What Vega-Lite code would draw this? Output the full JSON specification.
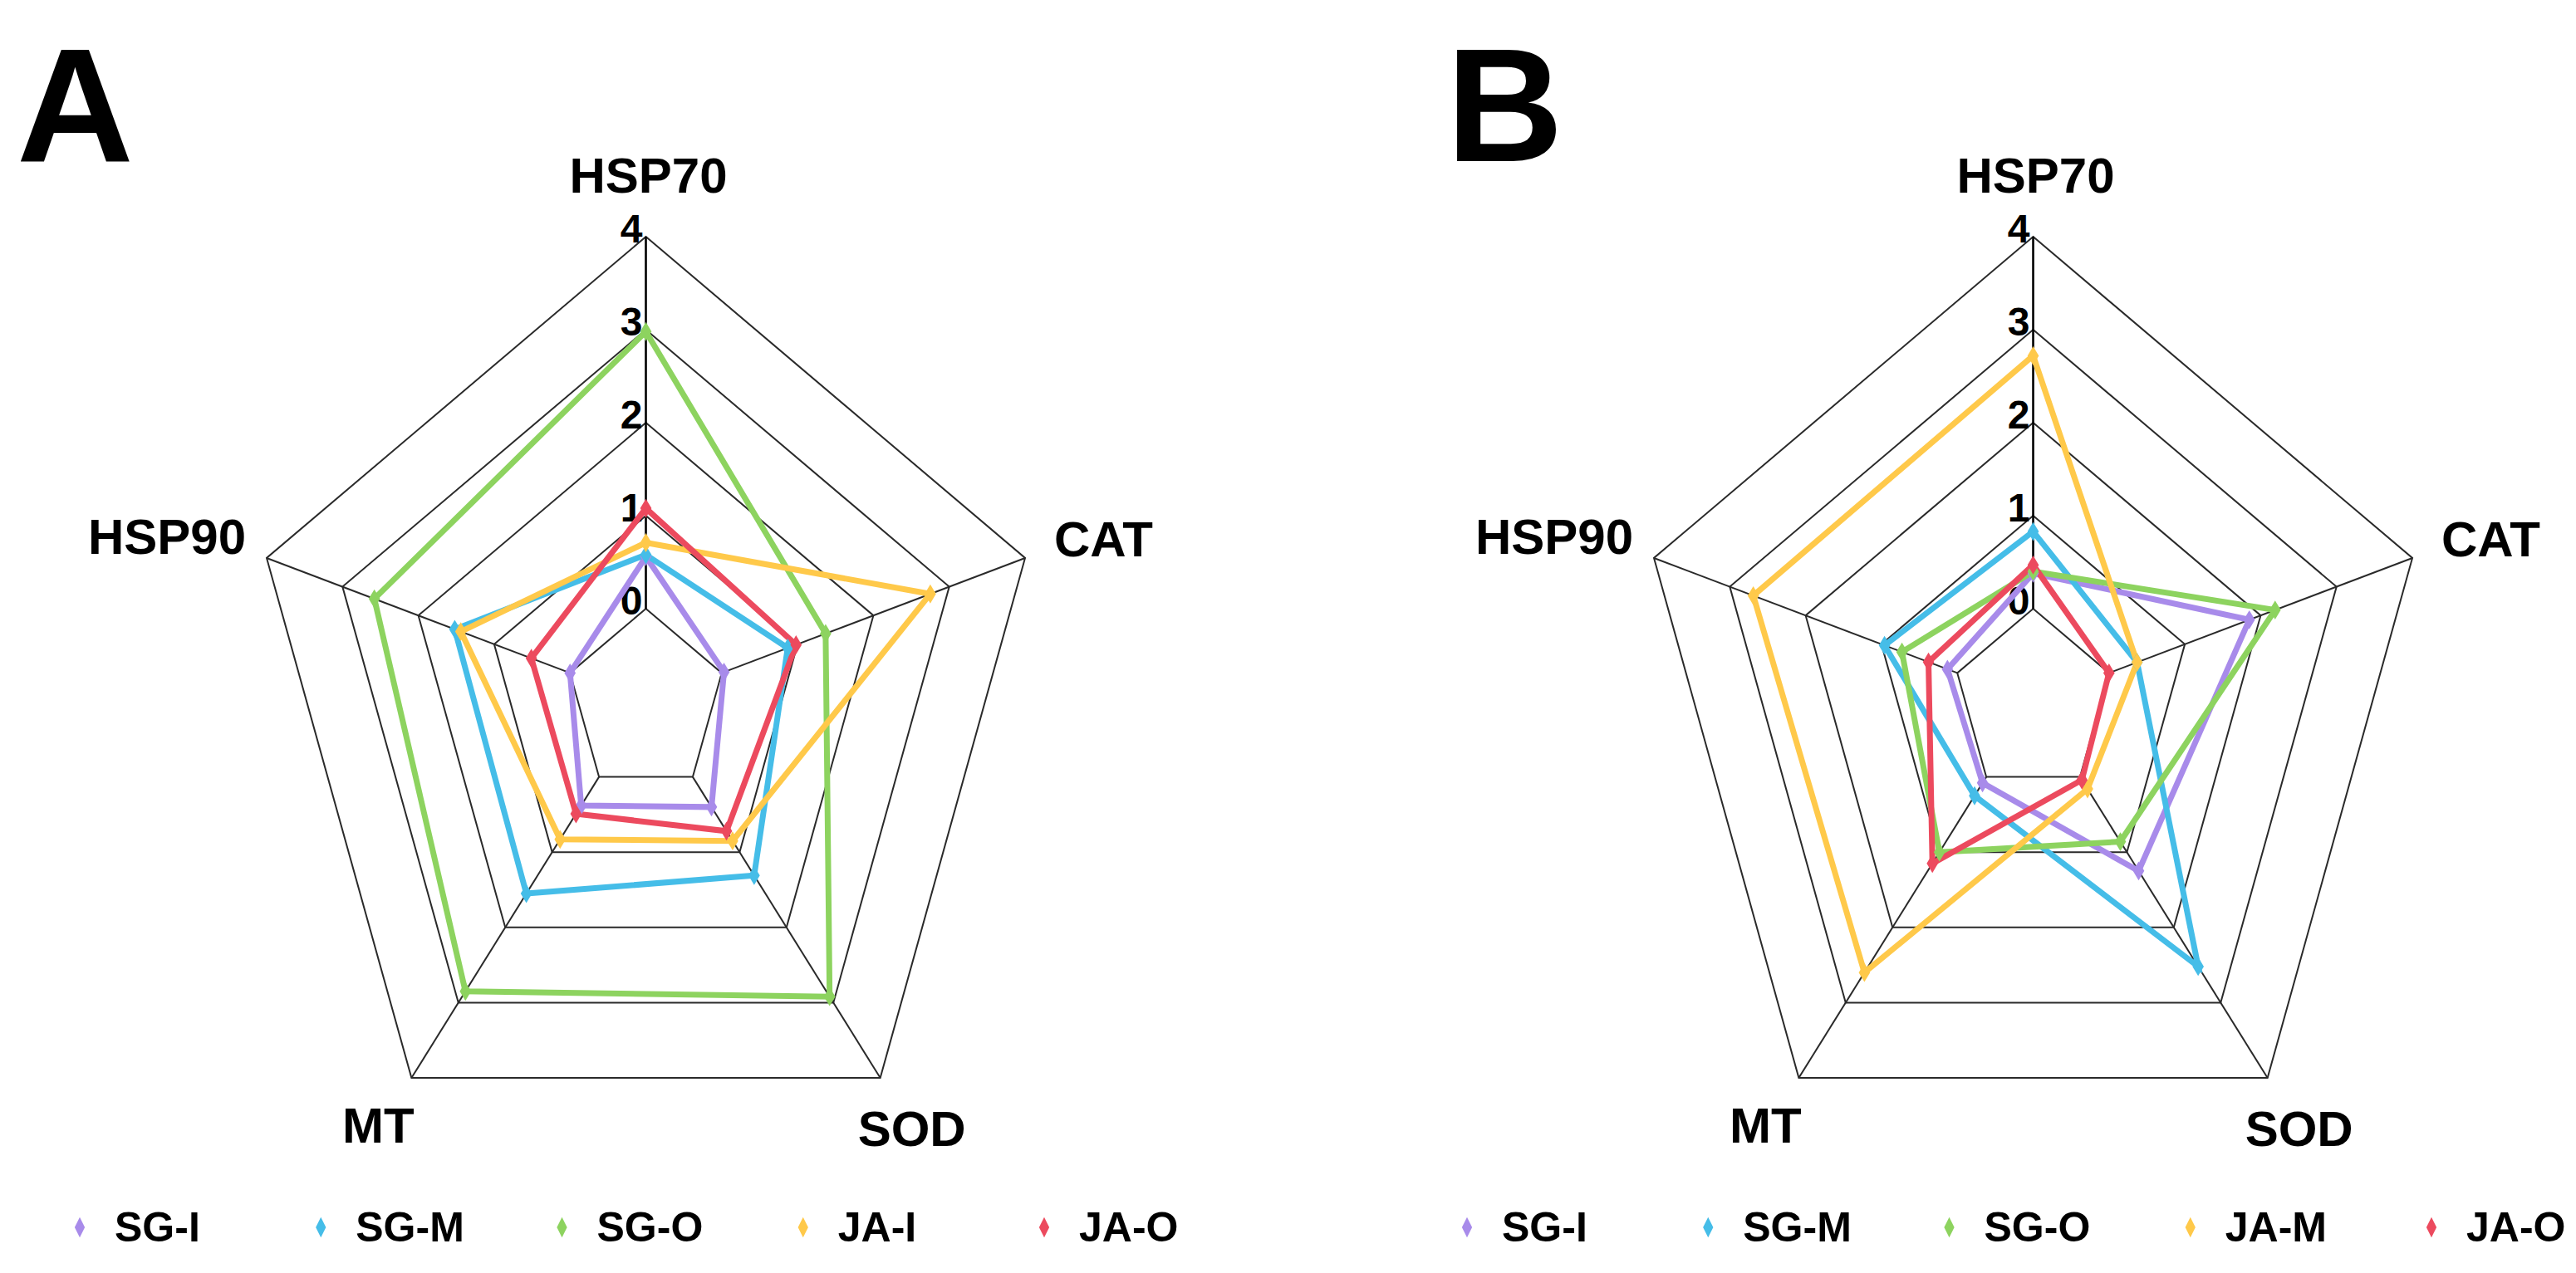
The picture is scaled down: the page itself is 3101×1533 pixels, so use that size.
{
  "$schema": "https://vega.github.io/schema/vega-lite/v6.json",
  "width": 3101,
  "height": 1533,
  "autosize": {"type": "fit", "contains": "padding"},
  "padding": 0,
  "background": "white",
  "config": {
    "view": {"stroke": null},
    "text": {"font": "Liberation Sans, Arial, Helvetica, sans-serif", "fontWeight": "bold", "color": "#000"}
  },
  "datasets": {
    "expr": [
      {"panel": "A", "group": "SG-I", "gene": "HSP70", "value": 0.56},
      {"panel": "A", "group": "SG-I", "gene": "CAT", "value": 0.03},
      {"panel": "A", "group": "SG-I", "gene": "SOD", "value": 0.40},
      {"panel": "A", "group": "SG-I", "gene": "MT", "value": 0.38},
      {"panel": "A", "group": "SG-I", "gene": "HSP90", "value": 0.0},
      {"panel": "A", "group": "SG-M", "gene": "HSP70", "value": 0.58},
      {"panel": "A", "group": "SG-M", "gene": "CAT", "value": 0.87},
      {"panel": "A", "group": "SG-M", "gene": "SOD", "value": 1.31},
      {"panel": "A", "group": "SG-M", "gene": "MT", "value": 1.55},
      {"panel": "A", "group": "SG-M", "gene": "HSP90", "value": 1.52},
      {"panel": "A", "group": "SG-O", "gene": "HSP70", "value": 2.98},
      {"panel": "A", "group": "SG-O", "gene": "CAT", "value": 1.37},
      {"panel": "A", "group": "SG-O", "gene": "SOD", "value": 2.92},
      {"panel": "A", "group": "SG-O", "gene": "MT", "value": 2.85},
      {"panel": "A", "group": "SG-O", "gene": "HSP90", "value": 2.58},
      {"panel": "A", "group": "JA-I", "gene": "HSP70", "value": 0.71},
      {"panel": "A", "group": "JA-I", "gene": "CAT", "value": 2.75},
      {"panel": "A", "group": "JA-I", "gene": "SOD", "value": 0.85},
      {"panel": "A", "group": "JA-I", "gene": "MT", "value": 0.83},
      {"panel": "A", "group": "JA-I", "gene": "HSP90", "value": 1.44},
      {"panel": "A", "group": "JA-O", "gene": "HSP70", "value": 1.08},
      {"panel": "A", "group": "JA-O", "gene": "CAT", "value": 0.98},
      {"panel": "A", "group": "JA-O", "gene": "SOD", "value": 0.72},
      {"panel": "A", "group": "JA-O", "gene": "MT", "value": 0.49},
      {"panel": "A", "group": "JA-O", "gene": "HSP90", "value": 0.51},
      {"panel": "B", "group": "SG-I", "gene": "HSP70", "value": 0.38},
      {"panel": "B", "group": "SG-I", "gene": "CAT", "value": 1.85},
      {"panel": "B", "group": "SG-I", "gene": "SOD", "value": 1.25},
      {"panel": "B", "group": "SG-I", "gene": "MT", "value": 0.08},
      {"panel": "B", "group": "SG-I", "gene": "HSP90", "value": 0.13},
      {"panel": "B", "group": "SG-M", "gene": "HSP70", "value": 0.83},
      {"panel": "B", "group": "SG-M", "gene": "CAT", "value": 0.37},
      {"panel": "B", "group": "SG-M", "gene": "SOD", "value": 2.52},
      {"panel": "B", "group": "SG-M", "gene": "MT", "value": 0.25},
      {"panel": "B", "group": "SG-M", "gene": "HSP90", "value": 0.96},
      {"panel": "B", "group": "SG-O", "gene": "HSP70", "value": 0.40},
      {"panel": "B", "group": "SG-O", "gene": "CAT", "value": 2.19},
      {"panel": "B", "group": "SG-O", "gene": "SOD", "value": 0.86},
      {"panel": "B", "group": "SG-O", "gene": "MT", "value": 1.0},
      {"panel": "B", "group": "SG-O", "gene": "HSP90", "value": 0.73},
      {"panel": "B", "group": "JA-M", "gene": "HSP70", "value": 2.72},
      {"panel": "B", "group": "JA-M", "gene": "CAT", "value": 0.37},
      {"panel": "B", "group": "JA-M", "gene": "SOD", "value": 0.16},
      {"panel": "B", "group": "JA-M", "gene": "MT", "value": 2.6},
      {"panel": "B", "group": "JA-M", "gene": "HSP90", "value": 2.69},
      {"panel": "B", "group": "JA-O", "gene": "HSP70", "value": 0.47},
      {"panel": "B", "group": "JA-O", "gene": "CAT", "value": 0.0},
      {"panel": "B", "group": "JA-O", "gene": "SOD", "value": 0.04},
      {"panel": "B", "group": "JA-O", "gene": "MT", "value": 1.15},
      {"panel": "B", "group": "JA-O", "gene": "HSP90", "value": 0.38}
    ],
    "grid": [
      {"panel": "A", "level": 0, "gene": ["HSP70", "CAT", "SOD", "MT", "HSP90"]},
      {"panel": "A", "level": 1, "gene": ["HSP70", "CAT", "SOD", "MT", "HSP90"]},
      {"panel": "A", "level": 2, "gene": ["HSP70", "CAT", "SOD", "MT", "HSP90"]},
      {"panel": "A", "level": 3, "gene": ["HSP70", "CAT", "SOD", "MT", "HSP90"]},
      {"panel": "A", "level": 4, "gene": ["HSP70", "CAT", "SOD", "MT", "HSP90"]},
      {"panel": "B", "level": 0, "gene": ["HSP70", "CAT", "SOD", "MT", "HSP90"]},
      {"panel": "B", "level": 1, "gene": ["HSP70", "CAT", "SOD", "MT", "HSP90"]},
      {"panel": "B", "level": 2, "gene": ["HSP70", "CAT", "SOD", "MT", "HSP90"]},
      {"panel": "B", "level": 3, "gene": ["HSP70", "CAT", "SOD", "MT", "HSP90"]},
      {"panel": "B", "level": 4, "gene": ["HSP70", "CAT", "SOD", "MT", "HSP90"]}
    ],
    "spokes": [
      {"panel": "A", "gene": "HSP70"}, {"panel": "A", "gene": "CAT"}, {"panel": "A", "gene": "SOD"}, {"panel": "A", "gene": "MT"}, {"panel": "A", "gene": "HSP90"},
      {"panel": "B", "gene": "HSP70"}, {"panel": "B", "gene": "CAT"}, {"panel": "B", "gene": "SOD"}, {"panel": "B", "gene": "MT"}, {"panel": "B", "gene": "HSP90"}
    ],
    "ticks": [
      {"panel": "A", "tick": [0, 1, 2, 3, 4]},
      {"panel": "B", "tick": [0, 1, 2, 3, 4]}
    ],
    "legend": [
      {"panel": "A", "group": "SG-I"}, {"panel": "A", "group": "SG-M"}, {"panel": "A", "group": "SG-O"}, {"panel": "A", "group": "JA-I"}, {"panel": "A", "group": "JA-O"},
      {"panel": "B", "group": "SG-I"}, {"panel": "B", "group": "SG-M"}, {"panel": "B", "group": "SG-O"}, {"panel": "B", "group": "JA-M"}, {"panel": "B", "group": "JA-O"}
    ],
    "letters": [
      {"panel": "A", "letter": "A"},
      {"panel": "B", "letter": "B"}
    ]
  },
  "layer": [
    {
      "data": {"name": "grid"},
      "transform": [
        {"flatten": ["gene"]},
        {"calculate": "indexof(['HSP70','CAT','SOD','MT','HSP90'], datum.gene)", "as": "idx"},
        {"calculate": "datum.panel == 'A' ? 0 : 17.396", "as": "off"},
        {"calculate": "datum.off + (datum.level + 1) * sin(datum.idx * 2 * PI / 5)", "as": "x"},
        {"calculate": "(datum.level + 1) * cos(datum.idx * 2 * PI / 5)", "as": "y"}
      ],
      "mark": {"type": "line", "interpolate": "linear-closed", "stroke": "#2a2a2a", "strokeWidth": 2},
      "encoding": {
        "x": {"field": "x", "type": "quantitative", "scale": {"domain": [-8.099, 24.203], "nice": false, "zero": false}, "axis": null},
        "y": {"field": "y", "type": "quantitative", "scale": {"domain": [-6.143, 7.545], "nice": false, "zero": false}, "axis": null},
        "detail": [{"field": "panel"}, {"field": "level"}],
        "order": {"field": "idx", "type": "quantitative"}
      }
    },
    {
      "data": {"name": "spokes"},
      "transform": [
        {"calculate": "indexof(['HSP70','CAT','SOD','MT','HSP90'], datum.gene)", "as": "idx"},
        {"calculate": "datum.panel == 'A' ? 0 : 17.396", "as": "off"},
        {"calculate": "datum.off + sin(datum.idx * 2 * PI / 5)", "as": "x"},
        {"calculate": "cos(datum.idx * 2 * PI / 5)", "as": "y"},
        {"calculate": "datum.off + 5 * sin(datum.idx * 2 * PI / 5)", "as": "x2"},
        {"calculate": "5 * cos(datum.idx * 2 * PI / 5)", "as": "y2"}
      ],
      "mark": {"type": "rule"},
      "encoding": {
        "x": {"field": "x", "type": "quantitative", "axis": null},
        "y": {"field": "y", "type": "quantitative", "axis": null},
        "x2": {"field": "x2"},
        "y2": {"field": "y2"},
        "color": {"condition": {"test": "datum.gene == 'HSP70'", "value": "#000000"}, "value": "#2a2a2a"},
        "strokeWidth": {"condition": {"test": "datum.gene == 'HSP70'", "value": 2.6}, "value": 2}
      }
    },
    {
      "data": {"name": "ticks"},
      "transform": [
        {"flatten": ["tick"]},
        {"calculate": "datum.panel == 'A' ? 0 : 17.396", "as": "x"},
        {"calculate": "datum.tick + 1", "as": "y"}
      ],
      "mark": {"type": "text", "align": "right", "baseline": "middle", "dx": -4, "dy": -7, "fontSize": 48},
      "encoding": {
        "x": {"field": "x", "type": "quantitative", "axis": null},
        "y": {"field": "y", "type": "quantitative", "axis": null},
        "text": {"field": "tick", "type": "nominal"}
      }
    },
    {
      "data": {"name": "spokes"},
      "transform": [
        {"filter": "datum.gene == 'HSP70'"},
        {"calculate": "datum.panel == 'A' ? 0 : 17.396", "as": "x"},
        {"calculate": "5", "as": "y"}
      ],
      "mark": {"type": "text", "align": "center", "baseline": "alphabetic", "dx": 3, "dy": -53, "fontSize": 60},
      "encoding": {
        "x": {"field": "x", "type": "quantitative", "axis": null},
        "y": {"field": "y", "type": "quantitative", "axis": null},
        "text": {"field": "gene", "type": "nominal"}
      }
    },
    {
      "data": {"name": "spokes"},
      "transform": [
        {"filter": "datum.gene == 'CAT'"},
        {"calculate": "(datum.panel == 'A' ? 0 : 17.396) + 5 * sin(2 * PI / 5)", "as": "x"},
        {"calculate": "5 * cos(2 * PI / 5)", "as": "y"}
      ],
      "mark": {"type": "text", "align": "left", "baseline": "alphabetic", "dx": 35, "dy": -2, "fontSize": 60},
      "encoding": {
        "x": {"field": "x", "type": "quantitative", "axis": null},
        "y": {"field": "y", "type": "quantitative", "axis": null},
        "text": {"field": "gene", "type": "nominal"}
      }
    },
    {
      "data": {"name": "spokes"},
      "transform": [
        {"filter": "datum.gene == 'SOD'"},
        {"calculate": "(datum.panel == 'A' ? 0 : 17.396) + 5 * sin(4 * PI / 5)", "as": "x"},
        {"calculate": "5 * cos(4 * PI / 5)", "as": "y"}
      ],
      "mark": {"type": "text", "align": "center", "baseline": "alphabetic", "dx": 38, "dy": 82, "fontSize": 60},
      "encoding": {
        "x": {"field": "x", "type": "quantitative", "axis": null},
        "y": {"field": "y", "type": "quantitative", "axis": null},
        "text": {"field": "gene", "type": "nominal"}
      }
    },
    {
      "data": {"name": "spokes"},
      "transform": [
        {"filter": "datum.gene == 'MT'"},
        {"calculate": "(datum.panel == 'A' ? 0 : 17.396) + 5 * sin(6 * PI / 5)", "as": "x"},
        {"calculate": "5 * cos(6 * PI / 5)", "as": "y"}
      ],
      "mark": {"type": "text", "align": "center", "baseline": "alphabetic", "dx": -40, "dy": 78, "fontSize": 60},
      "encoding": {
        "x": {"field": "x", "type": "quantitative", "axis": null},
        "y": {"field": "y", "type": "quantitative", "axis": null},
        "text": {"field": "gene", "type": "nominal"}
      }
    },
    {
      "data": {"name": "spokes"},
      "transform": [
        {"filter": "datum.gene == 'HSP90'"},
        {"calculate": "(datum.panel == 'A' ? 0 : 17.396) + 5 * sin(8 * PI / 5)", "as": "x"},
        {"calculate": "5 * cos(8 * PI / 5)", "as": "y"}
      ],
      "mark": {"type": "text", "align": "right", "baseline": "alphabetic", "dx": -25, "dy": -5, "fontSize": 60},
      "encoding": {
        "x": {"field": "x", "type": "quantitative", "axis": null},
        "y": {"field": "y", "type": "quantitative", "axis": null},
        "text": {"field": "gene", "type": "nominal"}
      }
    },
    {
      "data": {"name": "expr"},
      "transform": [
        {"calculate": "indexof(['HSP70','CAT','SOD','MT','HSP90'], datum.gene)", "as": "idx"},
        {"calculate": "datum.panel == 'A' ? 0 : 17.396", "as": "off"},
        {"calculate": "datum.off + (datum.value + 1) * sin(datum.idx * 2 * PI / 5)", "as": "x"},
        {"calculate": "(datum.value + 1) * cos(datum.idx * 2 * PI / 5)", "as": "y"}
      ],
      "layer": [
        {
          "mark": {"type": "line", "interpolate": "linear-closed", "strokeWidth": 7},
          "encoding": {
            "x": {"field": "x", "type": "quantitative", "axis": null},
            "y": {"field": "y", "type": "quantitative", "axis": null},
            "color": {"field": "group", "type": "nominal", "legend": null,
              "scale": {"domain": ["SG-I", "SG-M", "SG-O", "JA-I", "JA-M", "JA-O"], "range": ["#A88BEA", "#45BDE8", "#8DD35F", "#FFC94A", "#FFC94A", "#EC4A5E"]}},
            "detail": {"field": "panel"},
            "order": {"field": "idx", "type": "quantitative"}
          }
        },
        {
          "mark": {"type": "point", "filled": true, "opacity": 1, "size": 520, "shape": "M0,-1L0.6,0L0,1L-0.6,0Z"},
          "encoding": {
            "x": {"field": "x", "type": "quantitative", "axis": null},
            "y": {"field": "y", "type": "quantitative", "axis": null},
            "color": {"field": "group", "type": "nominal", "legend": null}
          }
        }
      ]
    },
    {
      "data": {"name": "legend"},
      "transform": [
        {"calculate": "datum.group == 'JA-M' ? 3 : indexof(['SG-I','SG-M','SG-O','JA-I','JA-O'], datum.group)", "as": "slot"},
        {"calculate": "(datum.panel == 'A' ? 0 : 17.396) - 7.099 + 3.0234 * datum.slot", "as": "x"},
        {"calculate": "-5.652", "as": "y"}
      ],
      "layer": [
        {
          "mark": {"type": "point", "filled": true, "opacity": 1, "size": 600, "shape": "M0,-1L0.5,0L0,1L-0.5,0Z"},
          "encoding": {
            "x": {"field": "x", "type": "quantitative", "axis": null},
            "y": {"field": "y", "type": "quantitative", "axis": null},
            "color": {"field": "group", "type": "nominal", "legend": null}
          }
        },
        {
          "mark": {"type": "text", "align": "left", "baseline": "middle", "dx": 42, "dy": 2, "fontSize": 50},
          "encoding": {
            "x": {"field": "x", "type": "quantitative", "axis": null},
            "y": {"field": "y", "type": "quantitative", "axis": null},
            "text": {"field": "group", "type": "nominal"}
          }
        }
      ]
    },
    {
      "data": {"name": "letters"},
      "transform": [
        {"calculate": "datum.panel == 'A' ? -7.891 : 10.036", "as": "x"},
        {"calculate": "5.8125", "as": "y"}
      ],
      "mark": {"type": "text", "align": "left", "baseline": "alphabetic", "fontSize": 195},
      "encoding": {
        "x": {"field": "x", "type": "quantitative", "axis": null},
        "y": {"field": "y", "type": "quantitative", "axis": null},
        "text": {"field": "letter", "type": "nominal"}
      }
    }
  ]
}
